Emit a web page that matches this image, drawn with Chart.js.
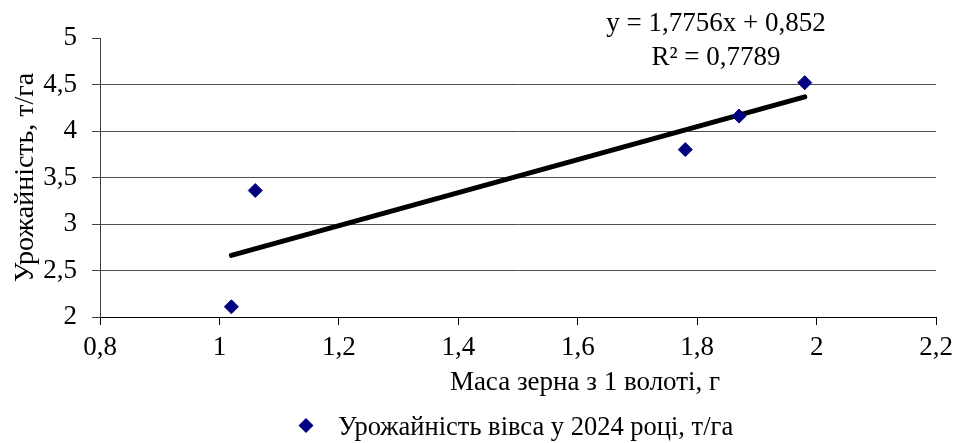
<!DOCTYPE html>
<html>
<head>
<meta charset="utf-8">
<script src="https://cdn.jsdelivr.net/npm/chart.js@4"></script>
<style>
  html, body { margin: 0; padding: 0; background: #ffffff; }
  #wrap { width: 960px; height: 443px; position: relative; }
</style>
</head>
<body>
<div id="wrap"><canvas id="chart"></canvas></div>
<script>
// Grain mass per panicle (g) and oat yield (t/ha), 2024
const grainMass = [1.02, 1.06, 1.78, 1.87, 1.98];
const oatYield = [2.11, 3.36, 3.80, 4.16, 4.52];

// Linear trend as reported
const trendSlope = 1.7756;
const trendIntercept = 0.852;
const trendR2 = 0.7789;
const trendRange = [1.02, 1.98];

// Axis ticks
const xTickValues = [0.8, 1.0, 1.2, 1.4, 1.6, 1.8, 2.0, 2.2];
const yTickValues = [2, 2.5, 3, 3.5, 4, 4.5, 5];

const xTitle = 'Маса зерна з 1 волоті, г';
const yTitle = 'Урожайність, т/га';
const seriesName = 'Урожайність вівса у 2024 році, т/га';

const FONT = '"Liberation Serif", "Times New Roman", serif';
const fmt = v => String(Number(v.toFixed(4))).replace('.', ',');

const points = grainMass.map((x, i) => ({ x, y: oatYield[i] }));
const trendPoints = trendRange.map(x => ({ x, y: trendSlope * x + trendIntercept }));

const equationLines = [
  'y = ' + fmt(trendSlope) + 'x + ' + fmt(trendIntercept),
  'R² = ' + fmt(trendR2)
];

// Axis titles, legend and trend equation
const annotations = {
  id: 'annotations',
  afterDraw(chart) {
    const ctx = chart.ctx;
    const area = chart.chartArea;
    ctx.save();
    ctx.fillStyle = '#000000';
    ctx.textAlign = 'center';
    ctx.textBaseline = 'alphabetic';

    // y axis title
    ctx.font = '28px ' + FONT;
    ctx.save();
    ctx.translate(33, (area.top + area.bottom) / 2);
    ctx.rotate(-Math.PI / 2);
    ctx.fillText(yTitle, 0, 0);
    ctx.restore();

    // x axis title
    ctx.font = '27px ' + FONT;
    ctx.fillText(xTitle, 585, 390);

    // trend equation
    ctx.font = '27px ' + FONT;
    ctx.fillText(equationLines[0], 716, 31);
    ctx.fillText(equationLines[1], 716, 65);

    // legend
    ctx.fillStyle = '#000080';
    ctx.beginPath();
    ctx.moveTo(306, 418);
    ctx.lineTo(313.5, 425.5);
    ctx.lineTo(306, 433);
    ctx.lineTo(298.5, 425.5);
    ctx.closePath();
    ctx.fill();
    ctx.fillStyle = '#000000';
    ctx.font = '26.5px ' + FONT;
    ctx.textAlign = 'left';
    ctx.fillText(seriesName, 338, 435);
    ctx.restore();
  }
};

new Chart(document.getElementById('chart'), {
  type: 'scatter',
  data: {
    datasets: [
      {
        label: 'trend',
        type: 'line',
        data: trendPoints,
        borderColor: '#000000',
        borderWidth: 5,
        borderCapStyle: 'round',
        pointRadius: 0,
        fill: false,
        order: 2
      },
      {
        label: seriesName,
        data: points,
        backgroundColor: '#000080',
        borderColor: '#000080',
        borderWidth: 1,
        pointStyle: 'rectRot',
        pointRadius: 7,
        order: 1
      }
    ]
  },
  options: {
    responsive: true,
    maintainAspectRatio: false,
    animation: false,
    layout: { padding: { top: 38, right: 23, bottom: 0, left: 0 } },
    plugins: {
      legend: { display: false },
      tooltip: { enabled: false },
      title: { display: false }
    },
    scales: {
      x: {
        type: 'linear',
        min: 0.8,
        max: 2.2,
        afterBuildTicks(scale) { scale.ticks = xTickValues.map(value => ({ value })); },
        afterFit(scale) { scale.height = 126; },
        ticks: {
          callback: v => fmt(v),
          color: '#000000',
          font: { family: FONT, size: 27 },
          padding: 7,
          maxRotation: 0,
          autoSkip: false
        },
        grid: {
          display: true,
          drawOnChartArea: false,
          drawTicks: true,
          tickLength: 8,
          color: '#000000',
          tickColor: '#000000'
        },
        border: { display: true, color: '#000000', width: 1 }
      },
      y: {
        type: 'linear',
        min: 2,
        max: 5,
        afterBuildTicks(scale) { scale.ticks = yTickValues.map(value => ({ value })); },
        afterFit(scale) { scale.width = 100; },
        ticks: {
          callback: v => fmt(v),
          color: '#000000',
          font: { family: FONT, size: 27 },
          padding: 15,
          autoSkip: false
        },
        grid: {
          display: true,
          drawTicks: true,
          tickLength: 8,
          color: c => (c.tick && c.tick.value === 5) ? 'rgba(0,0,0,0)' : '#505050',
          tickColor: '#404040',
          lineWidth: 1
        },
        border: { display: true, color: '#404040', width: 1 }
      }
    }
  },
  plugins: [annotations]
});
</script>
</body>
</html>
